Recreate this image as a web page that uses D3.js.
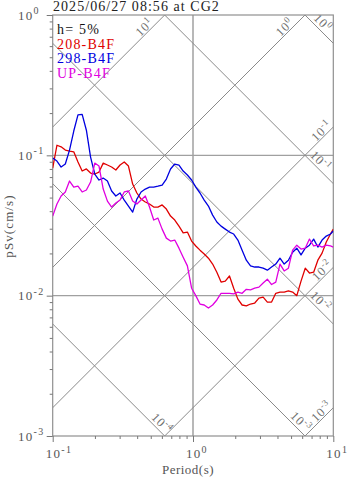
<!DOCTYPE html>
<html><head><meta charset="utf-8">
<script src="https://cdn.jsdelivr.net/npm/d3@7"></script>
<style>body{margin:0;background:#fff}svg{display:block}text{font-family:"Liberation Serif","Times New Roman",serif}</style>
</head><body><svg id="c" width="347" height="478"></svg>
<script>
const periods = [0.1,0.1072,0.1148,0.1230,0.1318,0.1413,0.1514,0.1622,0.1738,0.1862,0.1995,0.2138,0.2291,0.2455,0.2630,0.2818,0.3020,0.3236,0.3467,0.3715,0.3981,0.4266,0.4571,0.4898,0.5248,0.5623,0.6026,0.6457,0.6918,0.7413,0.7943,0.8511,0.9120,0.9772,1.047,1.122,1.202,1.288,1.380,1.479,1.585,1.698,1.820,1.950,2.089,2.239,2.399,2.570,2.754,2.951,3.162,3.388,3.631,3.890,4.169,4.467,4.786,5.129,5.495,5.888,6.310,6.761,7.244,7.762,8.318,8.913,9.550,10.0];
const sv208 = [0.081,0.118,0.115,0.109,0.107,0.106,0.0896,0.0773,0.080,0.0748,0.0736,0.076,0.088,0.0853,0.0826,0.0786,0.0853,0.0896,0.0839,0.0624,0.0539,0.0488,0.0465,0.045,0.0428,0.0428,0.0443,0.0414,0.0369,0.0346,0.0313,0.028,0.0284,0.0245,0.0226,0.0211,0.0198,0.0185,0.0168,0.0147,0.0125,0.0127,0.0138,0.0113,0.00945,0.00858,0.00845,0.00872,0.00886,0.0096,0.00976,0.009,0.009,0.0104,0.0106,0.0106,0.0108,0.0106,0.01,0.0127,0.0157,0.0145,0.0147,0.0179,0.0201,0.0241,0.0275,0.0298];
const sv298 = [0.0957,0.0911,0.0825,0.0867,0.109,0.149,0.194,0.196,0.151,0.0972,0.0736,0.0667,0.0689,0.0656,0.0557,0.0513,0.0539,0.048,0.0435,0.0394,0.0488,0.0548,0.0575,0.0594,0.0594,0.0603,0.0614,0.0678,0.0799,0.0867,0.0853,0.0773,0.0724,0.0667,0.0594,0.0539,0.048,0.0435,0.0375,0.0335,0.0313,0.0298,0.0284,0.0275,0.0249,0.0211,0.0179,0.0163,0.016,0.016,0.0157,0.0152,0.016,0.0168,0.0185,0.0168,0.0179,0.0204,0.0218,0.0195,0.0218,0.0229,0.0253,0.0222,0.0249,0.0266,0.0275,0.0289];
const svUP = [0.0369,0.045,0.0513,0.0548,0.0656,0.0594,0.0603,0.0548,0.0566,0.0645,0.0881,0.0839,0.0575,0.0472,0.0428,0.0457,0.048,0.0548,0.0557,0.0472,0.045,0.048,0.0513,0.0428,0.0346,0.0357,0.0298,0.0257,0.0245,0.0249,0.0218,0.0188,0.0163,0.0113,0.01,0.00872,0.00858,0.00816,0.00858,0.00932,0.0104,0.0104,0.0104,0.0103,0.0106,0.0104,0.0111,0.011,0.0113,0.0115,0.0123,0.0131,0.012,0.0125,0.0168,0.015,0.0157,0.0211,0.0229,0.0215,0.0218,0.0253,0.0226,0.0229,0.0222,0.0229,0.0226,0.0222];
const seriesNames = ["208-B4F","298-B4F","UP-B4F"];
const seriesColors = ["#e00000","#0000e0","#e000e0"];
const accelLines = [10,1,0.1,0.01,0.001];
const accelExp = ["1","0","-1","-2","-3"];
const dispLines = [1,0.1,0.01,0.001,0.0001];
const dispExp = ["0","-1","-2","-3","-4"];
const xTicks = [0.1,1,10], xTickExp = ["-1","0","1"];
const yTicks = [1,0.1,0.01,0.001], yTickExp = ["0","-1","-2","-3"];
const titleText = "2025/06/27 08:56 at CG2";
const dampText = "h= 5%";

const svg = d3.select("#c");
const L=52.7,R=333.3,T=15,B=436;
const x = d3.scaleLog().domain([0.1,10]).range([L,R]);
const y = d3.scaleLog().domain([0.001,1]).range([B,T]);
const gray="#8a8a8a";

svg.append("defs").append("clipPath").attr("id","pc").append("rect").attr("x",L).attr("y",T).attr("width",R-L).attr("height",B-T);

// grid
const g = svg.append("g");
g.append("line").attr("x1",x(1)).attr("x2",x(1)).attr("y1",T).attr("y2",B).attr("stroke","#a0a0a0").attr("stroke-width",1.5);
[0.1,0.01].forEach(v=>g.append("line").attr("x1",L).attr("x2",R).attr("y1",y(v)).attr("y2",y(v)).attr("stroke","#a0a0a0").attr("stroke-width",1.3));

// diagonals
const tw = 2*Math.PI;
const diag = svg.append("g").attr("clip-path","url(#pc)");
accelLines.forEach(a=>{
  diag.append("line").attr("x1",x(0.01)).attr("y1",y(a*0.01/tw)).attr("x2",x(100)).attr("y2",y(a*100/tw)).attr("stroke",gray).attr("stroke-width",1);
});
dispLines.forEach(d=>{
  diag.append("line").attr("x1",x(0.01)).attr("y1",y(d*tw/0.01)).attr("x2",x(100)).attr("y2",y(d*tw/100)).attr("stroke",gray).attr("stroke-width",1);
});
const s2=Math.SQRT1_2;
function diagLabel(cx,cy,ang,exp){
  const t=svg.append("text").attr("transform",`translate(${cx},${cy}) rotate(${ang})`).attr("text-anchor","middle").attr("y",4).attr("font-size",12.5).attr("fill","#707070").attr("letter-spacing",0.8);
  t.append("tspan").text("10");
  t.append("tspan").attr("dy",-5).attr("font-size",9).text(exp);
}
const aT=[23,23,11,10,11], dT=[22,25,25,13,11];
accelLines.forEach((a,i)=>{
  let Tend=tw/a, ex, ey;
  if(Tend<=10){ex=x(Tend);ey=T;} else {ex=R;ey=y(a*10/tw);}
  const t=aT[i],p=5.5;
  diagLabel(ex - t*s2 - p*s2, ey + t*s2 - p*s2, -45, accelExp[i]);
});
dispLines.forEach((d,i)=>{
  let sv=d*tw/10, ex, ey;
  if(sv>=0.001){ex=R;ey=y(sv);} else {ex=x(d*tw/0.001);ey=B;}
  const t=dT[i],p=7;
  diagLabel(ex - t*s2 + p*s2, ey - t*s2 - p*s2, 45, dispExp[i]);
});

// frame
svg.append("rect").attr("x",L).attr("y",T).attr("width",R-L).attr("height",B-T).attr("fill","none").attr("stroke","#909090").attr("stroke-width",1.2);

// axes
const xAxis = d3.axisBottom(x).tickValues(d3.range(-1,1).flatMap(e=>d3.range(1,10).map(k=>k*Math.pow(10,e))).concat([10])).tickSize(3).tickFormat("");
const xa = svg.append("g").attr("transform",`translate(0,${B})`).call(xAxis);
xa.select(".domain").remove();
xa.selectAll(".tick line").attr("stroke","#777").attr("y2",d=>[0.1,1,10].some(v=>Math.abs(v-d)<1e-9)?6:3);
const yAxis = d3.axisLeft(y).tickValues(d3.range(-3,0).flatMap(e=>d3.range(1,10).map(k=>k*Math.pow(10,e))).concat([1])).tickSize(3).tickFormat("");
const ya = svg.append("g").attr("transform",`translate(${L},0)`).call(yAxis);
ya.select(".domain").remove();
ya.selectAll(".tick line").attr("stroke","#777").attr("x2",d=>[0.001,0.01,0.1,1].some(v=>Math.abs(v-d)<1e-12)?-6:-3);

function expLabel(sel,xx,yy,exp,anchor){
  const t=sel.append("text").attr("x",xx).attr("y",yy).attr("font-size",13).attr("fill","#555").attr("letter-spacing",1.3).attr("text-anchor",anchor||"start");
  t.append("tspan").text("10");
  t.append("tspan").attr("dy",-5.5).attr("font-size",10).text(exp);
  return t;
}
xTicks.forEach((v,i)=>expLabel(svg,x(v)-7,458,xTickExp[i]));
yTicks.forEach((v,i)=>expLabel(svg,18,y(v)+4.5,yTickExp[i]));

svg.append("text").attr("x",188).attr("y",474).attr("text-anchor","middle").attr("font-size",13).attr("fill","#555").attr("letter-spacing",0.5).text("Period(s)");
svg.append("text").attr("transform","translate(13,226) rotate(-90)").attr("text-anchor","middle").attr("font-size",13).attr("fill","#555").attr("letter-spacing",1.1).text("pSv(cm/s)");

// title
svg.append("text").attr("x",53).attr("y",11).attr("font-size",14).attr("fill","#222").attr("letter-spacing",1.05).text(titleText);

// curves
const line = d3.line().x((d,i)=>x(periods[i])).y(d=>y(d));
const cg = svg.append("g").attr("clip-path","url(#pc)");
[sv208,sv298,svUP].forEach((s,i)=>{
  cg.append("path").attr("d",line(s)).attr("fill","none").attr("stroke",seriesColors[i]).attr("stroke-width",1.3).attr("stroke-linejoin","round");
});

// legend
const lg = svg.append("g");
lg.append("text").attr("x",57).attr("y",34).attr("font-size",14).attr("letter-spacing",1.2).attr("fill","#111").text(dampText);
seriesNames.forEach((n,i)=>lg.append("text").attr("x",57).attr("y",48.5+14.5*i).attr("font-size",14).attr("letter-spacing",1.2).attr("fill",seriesColors[i]).text(n));
</script></body></html>
